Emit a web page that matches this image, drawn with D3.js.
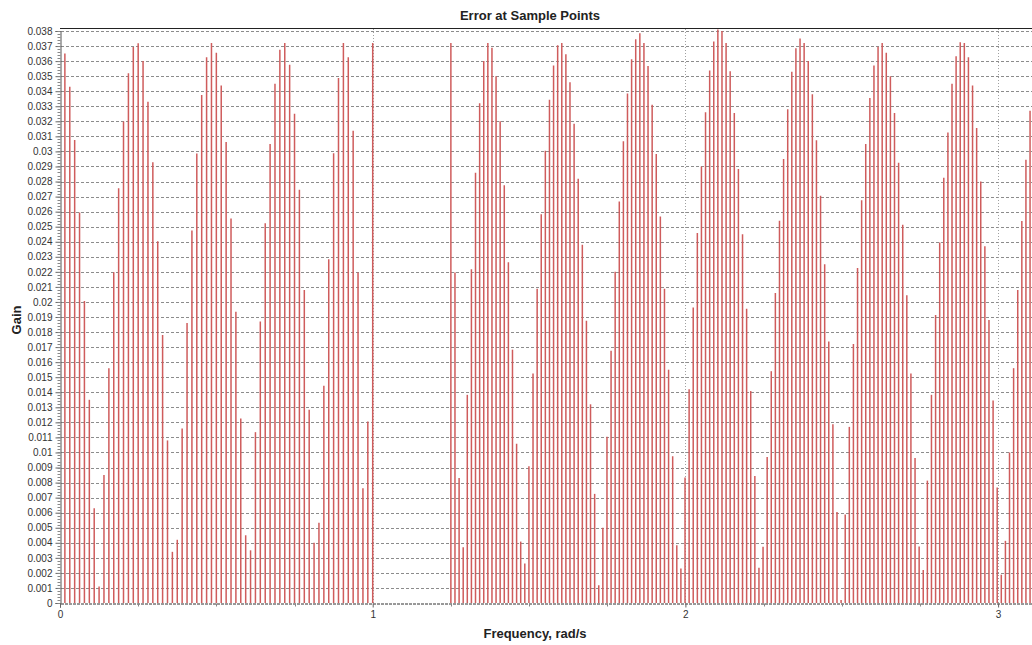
<!DOCTYPE html>
<html>
<head>
<meta charset="utf-8">
<script src="https://cdn.jsdelivr.net/npm/d3@7/dist/d3.min.js"></script>
<style>
  html, body { margin: 0; padding: 0; background: #fff; }
  svg { display: block; }
  text { font-family: "Liberation Sans", Arial, sans-serif; }
</style>
</head>
<body>
<svg id="chart" width="1032" height="645"></svg>
<script>
// ---------------- data ----------------
const passbandFreq = [0.0156, 0.0313, 0.0469, 0.0625, 0.0781, 0.0938, 0.1094, 0.125, 0.1406, 0.1563,
  0.1719, 0.1875, 0.2031, 0.2188, 0.2344, 0.25, 0.2656, 0.2813, 0.2969, 0.3125,
  0.3281, 0.3438, 0.3594, 0.375, 0.3906, 0.4063, 0.4219, 0.4375, 0.4531, 0.4688,
  0.4844, 0.5, 0.5156, 0.5313, 0.5469, 0.5625, 0.5781, 0.5938, 0.6094, 0.625,
  0.6406, 0.6563, 0.6719, 0.6875, 0.7031, 0.7188, 0.7344, 0.75, 0.7656, 0.7813,
  0.7969, 0.8125, 0.8281, 0.8438, 0.8594, 0.875, 0.8906, 0.9063, 0.9219, 0.9375,
  0.9531, 0.9688, 0.9844, 1.0];
const passbandGain = [0.0365, 0.0343, 0.03076, 0.02595, 0.02006, 0.0135, 0.0063, 0.0011, 0.0085, 0.0156,
  0.02197, 0.02755, 0.03198, 0.0352, 0.03694, 0.03718, 0.036, 0.0333, 0.02928, 0.02403,
  0.0178, 0.0108, 0.0034, 0.0042, 0.0116, 0.0186, 0.02474, 0.02987, 0.03375, 0.03625,
  0.0372, 0.03655, 0.03438, 0.03063, 0.02555, 0.01935, 0.01225, 0.0045, 0.0035, 0.01135,
  0.0187, 0.02523, 0.0305, 0.0345, 0.03675, 0.0372, 0.03575, 0.0325, 0.02745, 0.0208,
  0.01283, 0.004, 0.00533, 0.01443, 0.02283, 0.02988, 0.03488, 0.0372, 0.03625, 0.03138,
  0.02195, 0.00763, 0.01205, 0.0372];
const stopbandFreq = [1.25, 1.2631, 1.2763, 1.2894, 1.3025, 1.3157, 1.3288, 1.3420, 1.3551, 1.3682,
  1.3814, 1.3945, 1.4076, 1.4208, 1.4339, 1.4470, 1.4602, 1.4733, 1.4864, 1.4996,
  1.5127, 1.5259, 1.5390, 1.5521, 1.5653, 1.5784, 1.5915, 1.6047, 1.6178, 1.6309,
  1.6441, 1.6572, 1.6704, 1.6835, 1.6966, 1.7098, 1.7229, 1.7360, 1.7492, 1.7623,
  1.7754, 1.7886, 1.8017, 1.8148, 1.8280, 1.8411, 1.8543, 1.8674, 1.8805, 1.8937,
  1.9068, 1.9199, 1.9331, 1.9462, 1.9593, 1.9725, 1.9856, 1.9988, 2.0119, 2.0250,
  2.0382, 2.0513, 2.0644, 2.0776, 2.0907, 2.1038, 2.1170, 2.1301, 2.1432, 2.1564,
  2.1695, 2.1827, 2.1958, 2.2089, 2.2221, 2.2352, 2.2483, 2.2615, 2.2746, 2.2877,
  2.3009, 2.3140, 2.3272, 2.3403, 2.3534, 2.3666, 2.3797, 2.3928, 2.4060, 2.4191,
  2.4322, 2.4454, 2.4585, 2.4717, 2.4848, 2.4979, 2.5111, 2.5242, 2.5373, 2.5505,
  2.5636, 2.5767, 2.5899, 2.6030, 2.6161, 2.6293, 2.6424, 2.6556, 2.6687, 2.6818,
  2.6950, 2.7081, 2.7212, 2.7344, 2.7475, 2.7606, 2.7738, 2.7869, 2.8001, 2.8132,
  2.8263, 2.8395, 2.8526, 2.8657, 2.8789, 2.8920, 2.9051, 2.9183, 2.9314, 2.9445,
  2.9577, 2.9708, 2.9840, 2.9971, 3.0102, 3.0234, 3.0365, 3.0496, 3.0628, 3.0759,
  3.0890, 3.1022];
const stopbandGain = [0.0372, 0.02195, 0.0083, 0.0037, 0.01383, 0.02218, 0.02858, 0.0332, 0.036, 0.0372,
  0.03688, 0.035, 0.032, 0.02775, 0.02263, 0.01683, 0.01058, 0.00408, 0.00263, 0.00908,
  0.01525, 0.02088, 0.02583, 0.03005, 0.03343, 0.0357, 0.03705, 0.0372, 0.03645, 0.0346,
  0.03183, 0.02818, 0.0238, 0.01875, 0.0132, 0.00725, 0.00118, 0.005, 0.01105, 0.01675,
  0.022, 0.02668, 0.03068, 0.03385, 0.03613, 0.03745, 0.03785, 0.0372, 0.03568, 0.0331,
  0.02983, 0.02568, 0.02088, 0.0155, 0.00975, 0.00383, 0.0023, 0.00833, 0.0142, 0.01963,
  0.02458, 0.029, 0.0326, 0.03538, 0.0373, 0.0381, 0.0380, 0.0372, 0.03533, 0.03255,
  0.02883, 0.0245, 0.01955, 0.01408, 0.00843, 0.00235, 0.00374, 0.0097, 0.0154, 0.0206,
  0.0254, 0.0295, 0.0328, 0.0353, 0.03685, 0.0375, 0.0372, 0.036, 0.0338, 0.03075,
  0.02705, 0.0225, 0.01738, 0.01188, 0.00605, 0.0002, 0.00588, 0.0117, 0.0172, 0.02225,
  0.02675, 0.0305, 0.03355, 0.0357, 0.03695, 0.0372, 0.03655, 0.035, 0.03255, 0.02925,
  0.02513, 0.02045, 0.01525, 0.00963, 0.00375, 0.0022, 0.00813, 0.01383, 0.01913, 0.02395,
  0.02825, 0.03125, 0.0345, 0.03633, 0.03725, 0.0372, 0.03625, 0.03438, 0.03155, 0.028,
  0.0237, 0.0188, 0.01345, 0.00768, 0.00188, 0.00413, 0.01, 0.0156, 0.0208, 0.02538,
  0.02945, 0.0327];
const xTickValues = [0, 1, 2, 3];
const xTickLabels = ["0", "1", "2", "3"];
const xMinorTickValues = [0.25, 0.5, 0.75, 1.25, 1.5, 1.75, 2.25, 2.5, 2.75, 3.25];
const yTickValues = [0, 0.001, 0.002, 0.003, 0.004, 0.005, 0.006, 0.007, 0.008, 0.009, 0.01,
  0.011, 0.012, 0.013, 0.014, 0.015, 0.016, 0.017, 0.018, 0.019, 0.02, 0.021, 0.022, 0.023,
  0.024, 0.025, 0.026, 0.027, 0.028, 0.029, 0.03, 0.031, 0.032, 0.033, 0.034, 0.035, 0.036,
  0.037, 0.038];
const titleText = "Error at Sample Points";
const xTitle = "Frequency, rad/s";
const yTitle = "Gain";

// ---------------- layout ----------------
const W = 1032, H = 645;
const svg = d3.select("#chart");

const x = d3.scaleLinear().domain([0, Math.PI]).range([60, 60 + Math.PI * 312.7]);
const y = d3.scaleLinear().domain([0, 0.038]).range([603, 31]);

const points = passbandFreq.map((f, i) => ({ f, g: passbandGain[i] }))
  .concat(stopbandFreq.map((f, i) => ({ f, g: stopbandGain[i] })));

// horizontal grid (dashed)
svg.append("g").selectAll("line").data(yTickValues.filter(v => v > 0)).join("line")
  .attr("x1", 61).attr("x2", W)
  .attr("y1", d => Math.round(y(d)) + 0.5).attr("y2", d => Math.round(y(d)) + 0.5)
  .attr("stroke", "#8c8c8c").attr("stroke-width", 1).attr("stroke-dasharray", "3,2");

// vertical grid (dotted)
svg.append("g").selectAll("line").data(xTickValues.filter(v => v > 0)).join("line")
  .attr("x1", d => Math.round(x(d)) + 0.5).attr("x2", d => Math.round(x(d)) + 0.5)
  .attr("y1", 29).attr("y2", 603)
  .attr("stroke", "#a0a0a0").attr("stroke-width", 1).attr("stroke-dasharray", "1,2");

// stems
svg.append("g").selectAll("line").data(points).join("line")
  .attr("x1", d => x(d.f)).attr("x2", d => x(d.f))
  .attr("y1", y(0)).attr("y2", d => Math.max(y(d.g), 28))
  .attr("stroke", "#cf5c5c").attr("stroke-width", 1.5);

// top border
svg.append("line").attr("x1", 60).attr("x2", W).attr("y1", 28.5).attr("y2", 28.5)
  .attr("stroke", "#222").attr("stroke-width", 1);

// y axis
const yAxis = d3.axisLeft(y).tickValues(yTickValues).tickSize(5).tickPadding(3)
  .tickFormat(d => String(+d.toFixed(3)));
const gy = svg.append("g").attr("transform", "translate(60.5,0)").call(yAxis);
gy.select(".domain").attr("stroke", "#555");
gy.selectAll(".tick line").attr("stroke", "#666");
gy.selectAll(".tick text").attr("font-size", 10).attr("fill", "#333")
  .attr("font-family", "'Liberation Sans', Arial, sans-serif");
// y minor ticks
const yMinor = d3.range(0, 0.0380001, 0.0002);
gy.append("g").selectAll("line").data(yMinor).join("line")
  .attr("x1", -3).attr("x2", 0)
  .attr("y1", d => Math.round(y(d)) + 0.5).attr("y2", d => Math.round(y(d)) + 0.5)
  .attr("stroke", "#888");

// x axis
const xAxis = d3.axisBottom(x).tickValues(xTickValues).tickSize(4).tickPadding(3)
  .tickFormat((d, i) => xTickLabels[i]);
const gx = svg.append("g").attr("transform", "translate(0,603.5)").call(xAxis);
gx.select(".domain").attr("stroke", "#333").attr("stroke-dasharray", "3,1");
gx.selectAll(".tick line").attr("stroke", "#666");
gx.selectAll(".tick text").attr("font-size", 10).attr("fill", "#333")
  .attr("font-family", "'Liberation Sans', Arial, sans-serif");
gx.append("g").selectAll("line").data(xMinorTickValues).join("line")
  .attr("x1", d => Math.round(x(d)) + 0.5).attr("x2", d => Math.round(x(d)) + 0.5)
  .attr("y1", 0).attr("y2", 3).attr("stroke", "#888");

// titles
svg.append("text").attr("x", 530).attr("y", 20).attr("text-anchor", "middle")
  .attr("font-size", 13).attr("font-weight", "bold").attr("fill", "#222").text(titleText);
svg.append("text").attr("x", 535).attr("y", 638).attr("text-anchor", "middle")
  .attr("font-size", 13).attr("font-weight", "bold").attr("fill", "#222").text(xTitle);
svg.append("text").attr("transform", "translate(21,320) rotate(-90)").attr("text-anchor", "middle")
  .attr("font-size", 13).attr("font-weight", "bold").attr("fill", "#222").text(yTitle);
</script>
</body>
</html>
